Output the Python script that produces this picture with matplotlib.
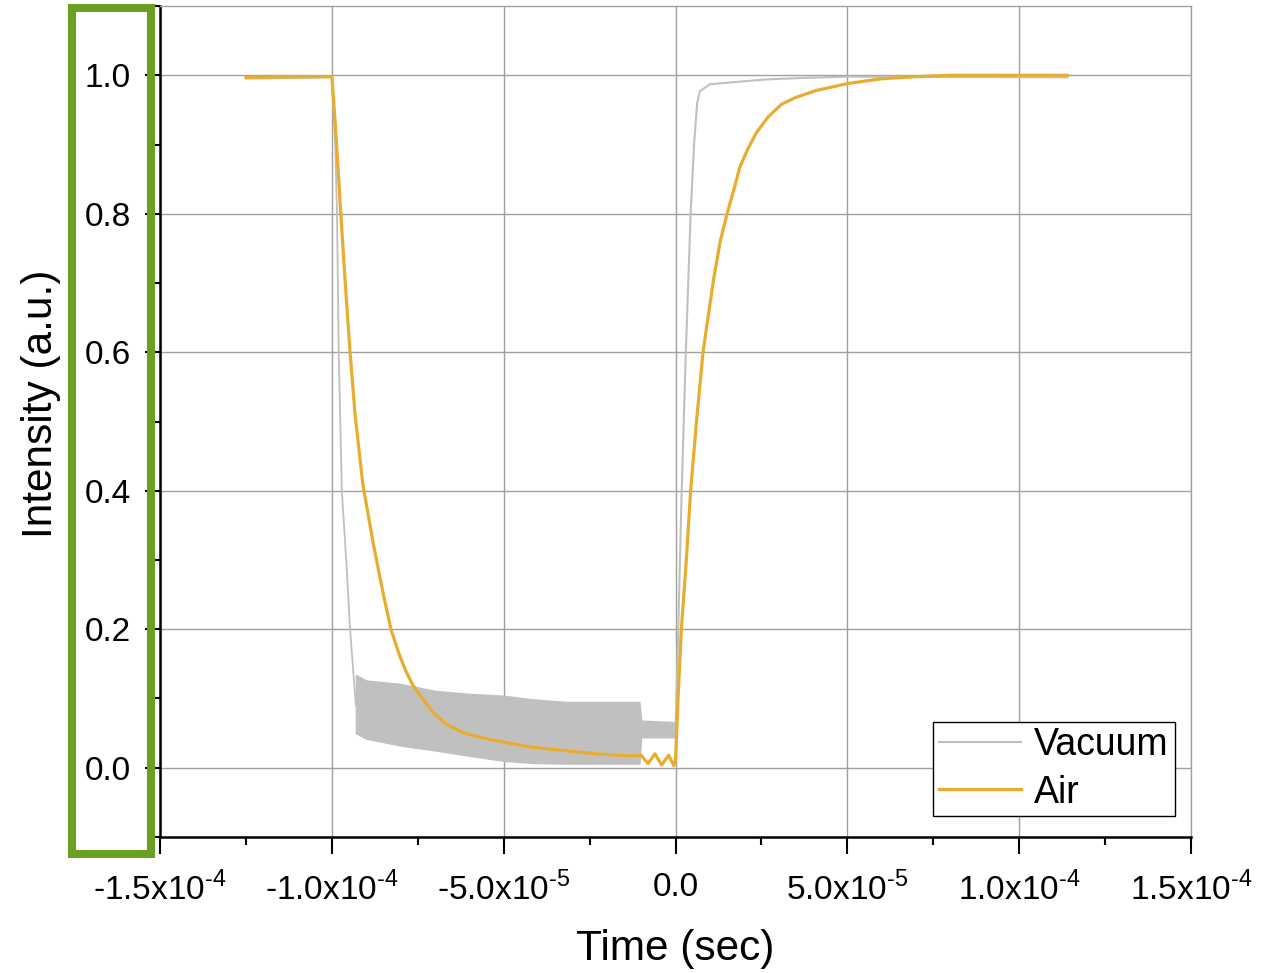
import matplotlib
matplotlib.use("Agg")
import matplotlib.pyplot as plt
import numpy as np
from matplotlib.patches import Rectangle
from matplotlib.ticker import MultipleLocator, FuncFormatter
from matplotlib.lines import Line2D

plt.rcParams['font.family'] = ['Liberation Sans', 'DejaVu Sans']
plt.rcParams['mathtext.fontset'] = 'custom'
plt.rcParams['mathtext.rm'] = 'Liberation Sans'

# times in units of 1e-5 s
vac_drop_t = [-12.5, -10.0, -9.9, -9.85, -9.8, -9.71, -9.56, -9.47, -9.37, -9.3]
vac_drop_i = [0.995, 0.997, 0.895, 0.8, 0.6, 0.4, 0.282, 0.2, 0.134, 0.09]

vac_band_t = [-9.3, -9.0, -8.0, -7.0, -6.1, -5.0, -4.2, -3.2, -2.2, -1.05, -1.0, -0.05, 0.0]
vac_band_hi = [0.134, 0.126, 0.121, 0.111, 0.107, 0.104, 0.099, 0.095, 0.095, 0.095, 0.068, 0.066, 0.060]
vac_band_lo = [0.050, 0.042, 0.032, 0.025, 0.018, 0.010, 0.007, 0.006, 0.006, 0.006, 0.044, 0.044, 0.050]

vac_rise_t = [0.0, 0.08, 0.18, 0.30, 0.44, 0.54, 0.63, 0.71, 1.0, 1.67, 2.64, 3.61, 5.0, 11.4]
vac_rise_i = [0.05, 0.2, 0.4, 0.6, 0.8, 0.9, 0.96, 0.977, 0.987, 0.990, 0.994, 0.996, 0.998, 0.997]

air_t = [-12.5, -10.0, -9.9, -9.74, -9.61, -9.47, -9.32, -9.1, -8.8, -8.50, -8.28,
         -8.03, -7.85, -7.64, -7.35, -7.06, -6.67, -6.19, -5.70, -5.01, -4.25, -3.28,
         -2.31, -1.34, -1.0, -0.8, -0.6, -0.4, -0.2, -0.05, 0.0,
         0.08, 0.17, 0.32, 0.44, 0.61, 0.80, 1.10, 1.30, 1.50, 1.70, 1.87, 2.1, 2.35,
         2.7, 3.08, 3.5, 4.09, 5.0, 6.0, 7.0, 8.0, 11.4]
air_i = [0.997, 0.998, 0.93, 0.8, 0.70, 0.6, 0.508, 0.41, 0.325, 0.25, 0.2,
         0.162, 0.14, 0.119, 0.099, 0.080, 0.063, 0.051, 0.044, 0.037, 0.030, 0.025,
         0.020, 0.017, 0.018, 0.006, 0.020, 0.004, 0.018, 0.003, 0.011,
         0.108, 0.2, 0.304, 0.4, 0.5, 0.6, 0.703, 0.76, 0.8, 0.835, 0.867, 0.893, 0.917,
         0.94, 0.958, 0.968, 0.978, 0.988, 0.995, 0.998, 1.0, 1.0]

scale = 1e-5
gray = '#c0c0c0'
orange = '#e8ad2e'

fig = plt.figure(figsize=(12.7, 9.73), dpi=100)
ax = fig.add_axes([0.126, 0.1398, 0.8118, 0.854])

ax.plot(np.array(vac_drop_t) * scale, vac_drop_i, color=gray, lw=1.3, zorder=3)
ax.fill_between(np.array(vac_band_t) * scale, vac_band_lo, vac_band_hi,
                color=gray, lw=1.0, edgecolor=gray, zorder=3)
ax.plot(np.array(vac_rise_t) * scale, vac_rise_i, color=gray, lw=1.5, zorder=3)
ax.plot(np.array(air_t) * scale, air_i, color=orange, lw=2.3, zorder=4)

ax.set_xlim(-1.5e-4, 1.5e-4)
ax.set_ylim(-0.1, 1.1)
ax.xaxis.set_major_locator(MultipleLocator(5e-5))
ax.xaxis.set_minor_locator(MultipleLocator(2.5e-5))
ax.yaxis.set_major_locator(MultipleLocator(0.2))
ax.yaxis.set_minor_locator(MultipleLocator(0.1))


def sci_fmt(v, pos):
    if abs(v) < 1e-12:
        return "0.0"
    exp = int(np.floor(np.log10(abs(v)) + 1e-9))
    mant = v / 10 ** exp
    return "%.1fx10$^{\\text{-%d}}$" % (mant, abs(exp))


ax.xaxis.set_major_formatter(FuncFormatter(sci_fmt))
ax.yaxis.set_major_formatter(FuncFormatter(lambda v, p: "%.1f" % v))

ax.grid(True, which='major', color='#a0a0a0', lw=1.0)
ax.set_axisbelow(True)
for s in ['top', 'right']:
    ax.spines[s].set_color('#a0a0a0')
    ax.spines[s].set_linewidth(1.0)
for s in ['left', 'bottom']:
    ax.spines[s].set_color('black')
    ax.spines[s].set_linewidth(1.8)

ax.tick_params(axis='both', which='both', direction='out', width=1.5, labelsize=24)
ax.tick_params(axis='x', which='major', length=12, pad=13)
ax.tick_params(axis='x', which='minor', length=6)
ax.tick_params(axis='y', which='major', length=11, pad=10)
ax.tick_params(axis='y', which='minor', length=6)

ax.set_xlabel("Time (sec)", fontsize=30.5, va='top')
ax.xaxis.set_label_coords(0.5, -0.111)
ax.set_ylabel("Intensity (a.u.)", fontsize=30.5)
ax.yaxis.set_label_coords(-0.096, 0.521)

handles = [Line2D([], [], color=gray, lw=1.5), Line2D([], [], color=orange, lw=2.3)]
leg = ax.legend(handles, ["Vacuum", "Air"], loc='lower right', fontsize=27,
                bbox_to_anchor=(0.984, 0.025), fancybox=False, framealpha=1,
                edgecolor='black', handlelength=2.2, handletextpad=0.35,
                borderpad=0.15, labelspacing=0.3, borderaxespad=0)
leg.get_frame().set_linewidth(1.0)

fig.patches.append(Rectangle((72 / 1270, 1 - 854 / 973), (150.5 - 72) / 1270, (854 - 8) / 973,
                             transform=fig.transFigure, fill=False,
                             edgecolor='#6b9e23', lw=5.8, zorder=10))

fig.savefig("out.png", dpi=100)
